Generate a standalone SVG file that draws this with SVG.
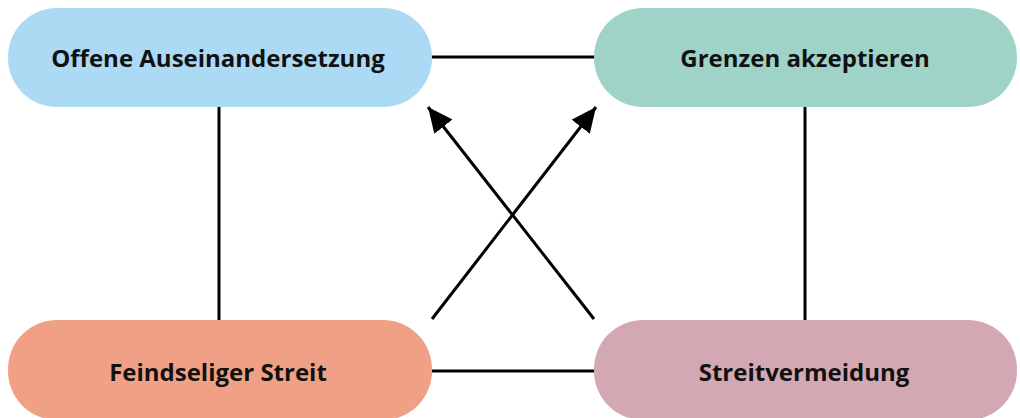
<svg xmlns="http://www.w3.org/2000/svg" width="1020" height="418" viewBox="0 0 1020 418">
<defs>
<style>
.node text{font-family:"Open Sans","Noto Sans","Liberation Sans",sans-serif;font-weight:bold;font-size:24px;fill:#111;text-anchor:middle}
.conn line{stroke:#000;stroke-width:3;fill:none}
</style>
<marker id="arr" viewBox="0 0 25 23" refX="25" refY="11.5" markerWidth="25" markerHeight="23" markerUnits="userSpaceOnUse" orient="auto">
<path d="M0,0 L25,11.5 L0,23 z" fill="#000"/>
</marker>
</defs>
<rect width="1020" height="418" fill="#fff"/>
<g class="conn" id="connectors">
<line x1="431" y1="57" x2="595" y2="57"/>
<line x1="431" y1="371" x2="595" y2="371"/>
<line x1="219" y1="107" x2="219" y2="320"/>
<line x1="805" y1="107" x2="805" y2="320"/>
<line x1="432" y1="319" x2="596" y2="107" marker-end="url(#arr)"/>
<line x1="594" y1="319" x2="428" y2="107" marker-end="url(#arr)"/>
</g>
<g class="node" id="offene">
<rect x="8" y="8" width="424" height="99" rx="49" fill="#acd9f3"/>
<text x="218" y="67">Offene Auseinandersetzung</text>
</g>
<g class="node" id="grenzen">
<rect x="594" y="8" width="423" height="99" rx="49" fill="#9fd3c8"/>
<text x="805" y="67">Grenzen akzeptieren</text>
</g>
<g class="node" id="feindselig">
<rect x="8" y="320" width="424" height="100" rx="49" fill="#f0a185"/>
<text x="218" y="381">Feindseliger Streit</text>
</g>
<g class="node" id="vermeidung">
<rect x="594" y="320" width="423" height="100" rx="49" fill="#d4a8b3"/>
<text x="804" y="381">Streitvermeidung</text>
</g>
</svg>
